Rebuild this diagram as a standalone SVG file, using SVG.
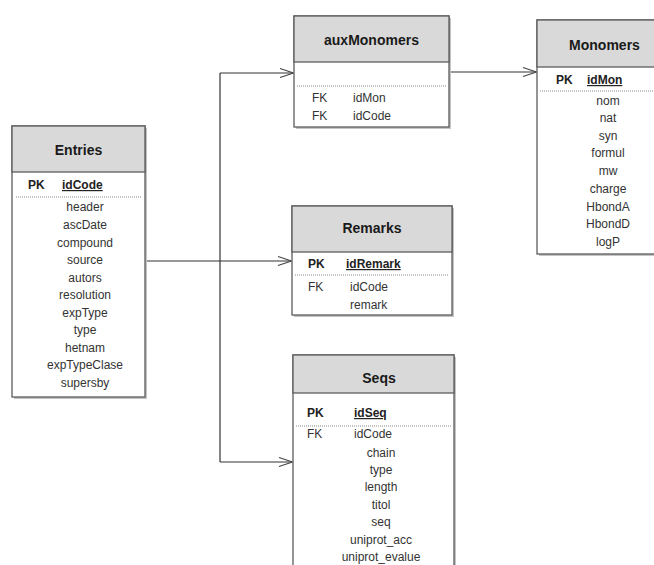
<svg xmlns="http://www.w3.org/2000/svg" width="654" height="565" viewBox="0 0 654 565">
  <style>
    .shadow { fill: #c4c4c4; }
    .box { fill: #ffffff; stroke: #5c5c5c; stroke-width: 1.3; }
    .hdr { fill: #d9d9d9; stroke: #5c5c5c; stroke-width: 1.3; }
    .sep { stroke: #8a8a8a; stroke-width: 1; stroke-dasharray: 1 1; }
    .title { font-family: "Liberation Sans", Arial, sans-serif; font-size: 14px; font-weight: bold; fill: #1a1a1a; text-anchor: middle; }
    .f { font-family: "Liberation Sans", Arial, sans-serif; font-size: 12px; fill: #333333; }
    .c { text-anchor: middle; }
    .k { font-weight: bold; fill: #222222; }
    .pk { font-weight: bold; fill: #222222; text-decoration: underline; }
    .wire { fill: none; stroke: #333333; stroke-width: 1.2; }
    .head { fill: none; stroke: #444444; stroke-width: 1.1; }
  </style>

  <!-- relationship lines -->
  <g id="connectors">
    <path class="wire" d="M146 261 H291" stroke-width="1.6"/>
    <path class="wire" d="M220 73 V462"/>
    <path class="wire" d="M220 73 H293"/>
    <path class="wire" d="M220 462 H292"/>
    <path class="wire" d="M449 72 H536"/>
    <path class="head" d="M280 68.5 L293.5 73 L280 77.5"/>
    <path class="head" d="M278 256.5 L291.5 261 L278 265.5"/>
    <path class="head" d="M279 457.5 L292.5 462 L279 466.5"/>
    <path class="head" d="M523 67.5 L536.5 72 L523 76.5"/>
  </g>

  <!-- Entries -->
  <g id="entries">
    <rect class="shadow" x="14" y="128" width="133" height="271"/>
    <rect class="box" x="12" y="126" width="133" height="271"/>
    <rect class="hdr" x="12" y="126" width="133" height="46"/>
    <text class="title" x="78.5" y="155">Entries</text>
    <text class="f k" x="28" y="189">PK</text>
    <text class="f pk" x="62" y="189">idCode</text>
    <line class="sep" x1="16" y1="197" x2="141" y2="197"/>
    <text class="f c" x="85" y="211">header</text>
    <text class="f c" x="85" y="229">ascDate</text>
    <text class="f c" x="85" y="246.5">compound</text>
    <text class="f c" x="85" y="264">source</text>
    <text class="f c" x="85" y="281.5">autors</text>
    <text class="f c" x="85" y="299">resolution</text>
    <text class="f c" x="85" y="316.5">expType</text>
    <text class="f c" x="85" y="334">type</text>
    <text class="f c" x="85" y="351.5">hetnam</text>
    <text class="f c" x="85" y="369">expTypeClase</text>
    <text class="f c" x="85" y="386.5">supersby</text>
  </g>

  <!-- auxMonomers -->
  <g id="auxMonomers">
    <rect class="shadow" x="296" y="18" width="155" height="111"/>
    <rect class="box" x="294" y="16" width="155" height="111"/>
    <rect class="hdr" x="294" y="16" width="155" height="46"/>
    <text class="title" x="371.5" y="45">auxMonomers</text>
    <line class="sep" x1="297" y1="86" x2="446" y2="86"/>
    <text class="f" x="312" y="102">FK</text>
    <text class="f" x="353" y="102">idMon</text>
    <text class="f" x="312" y="120">FK</text>
    <text class="f" x="353" y="120">idCode</text>
  </g>

  <!-- Monomers -->
  <g id="monomers">
    <rect class="shadow" x="539" y="22" width="140" height="234"/>
    <rect class="box" x="537" y="20" width="140" height="234"/>
    <rect class="hdr" x="537" y="20" width="140" height="47"/>
    <text class="title" x="604.5" y="50">Monomers</text>
    <text class="f k" x="556" y="84">PK</text>
    <text class="f pk" x="587" y="84">idMon</text>
    <line class="sep" x1="540" y1="91" x2="654" y2="91"/>
    <text class="f c" x="608" y="105">nom</text>
    <text class="f c" x="608" y="122">nat</text>
    <text class="f c" x="608" y="140">syn</text>
    <text class="f c" x="608" y="157">formul</text>
    <text class="f c" x="608" y="175">mw</text>
    <text class="f c" x="608" y="193">charge</text>
    <text class="f c" x="608" y="211">HbondA</text>
    <text class="f c" x="608" y="228">HbondD</text>
    <text class="f c" x="608" y="246">logP</text>
  </g>

  <!-- Remarks -->
  <g id="remarks">
    <rect class="shadow" x="294" y="208" width="160" height="109"/>
    <rect class="box" x="292" y="206" width="160" height="109"/>
    <rect class="hdr" x="292" y="206" width="160" height="46"/>
    <text class="title" x="372" y="233">Remarks</text>
    <text class="f k" x="308" y="268">PK</text>
    <text class="f pk" x="346" y="268">idRemark</text>
    <line class="sep" x1="295" y1="275" x2="449" y2="275"/>
    <text class="f" x="308" y="291">FK</text>
    <text class="f" x="350" y="291">idCode</text>
    <text class="f" x="350" y="309">remark</text>
  </g>

  <!-- Seqs -->
  <g id="seqs">
    <rect class="shadow" x="295" y="357" width="161" height="230"/>
    <rect class="box" x="293" y="355" width="161" height="230"/>
    <rect class="hdr" x="293" y="355" width="161" height="38"/>
    <text class="title" x="379" y="383">Seqs</text>
    <text class="f k" x="307" y="417">PK</text>
    <text class="f pk" x="354" y="417">idSeq</text>
    <line class="sep" x1="296" y1="426" x2="451" y2="426"/>
    <text class="f" x="307" y="438">FK</text>
    <text class="f" x="354" y="438">idCode</text>
    <text class="f c" x="381" y="456.5">chain</text>
    <text class="f c" x="381" y="474">type</text>
    <text class="f c" x="381" y="491">length</text>
    <text class="f c" x="381" y="508.5">titol</text>
    <text class="f c" x="381" y="526">seq</text>
    <text class="f c" x="381" y="543.5">uniprot_acc</text>
    <text class="f c" x="381" y="561">uniprot_evalue</text>
  </g>
</svg>
